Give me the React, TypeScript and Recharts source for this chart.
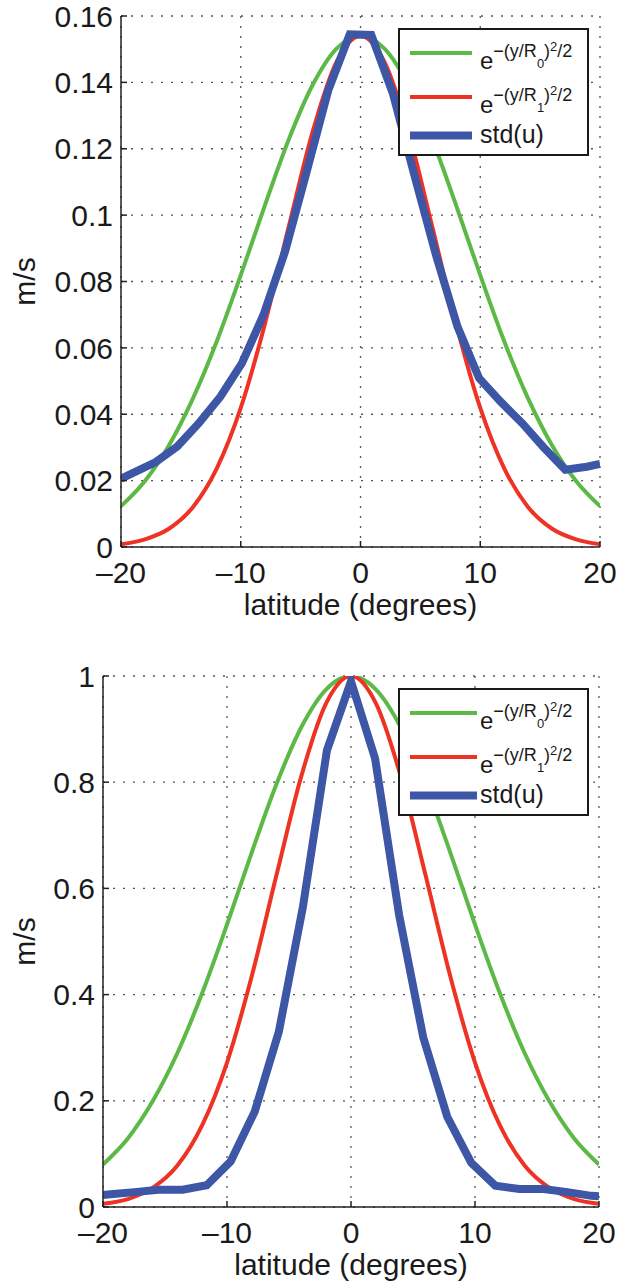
import { LineChart, Line, XAxis, YAxis, CartesianGrid, Legend } from "recharts";

// latitude grid for the two gaussian reference curves
const LAT = [-20, -18, -16, -14, -12, -10, -8, -6, -4, -2, 0, 2, 4, 6, 8, 10, 12, 14, 16, 18, 20];

// top panel (m/s)
const TOP_R0 = [0.0123, 0.0199, 0.0306, 0.0447, 0.062, 0.0819, 0.1028, 0.1227, 0.1392, 0.1502, 0.154, 0.1502, 0.1392, 0.1227, 0.1028, 0.0819, 0.062, 0.0447, 0.0306, 0.0199, 0.0123];
const TOP_R1 = [0.0008, 0.0023, 0.0055, 0.012, 0.0237, 0.0419, 0.067, 0.0964, 0.1251, 0.1462, 0.154, 0.1462, 0.1251, 0.0964, 0.067, 0.0419, 0.0237, 0.012, 0.0055, 0.0023, 0.0008];
const TOP_STD_LAT = [-20, -18.9, -17.1, -15.3, -13.5, -11.7, -9.9, -8.1, -6.3, -4.5, -2.7, -0.9, 0.9, 2.7, 4.5, 6.3, 8.1, 9.9, 11.7, 13.5, 15.3, 17.1, 18.9, 20];
const TOP_STD = [0.0206, 0.0225, 0.0256, 0.0303, 0.0373, 0.0453, 0.0554, 0.07, 0.089, 0.113, 0.1375, 0.1545, 0.1543, 0.1367, 0.112, 0.088, 0.0664, 0.0509, 0.0438, 0.0373, 0.03, 0.0233, 0.0242, 0.025];

// bottom panel (normalised)
const BOT_R0 = [0.08, 0.129, 0.199, 0.29, 0.403, 0.532, 0.668, 0.797, 0.904, 0.975, 1, 0.975, 0.904, 0.797, 0.668, 0.532, 0.403, 0.29, 0.199, 0.129, 0.08];
const BOT_R1 = [0.006, 0.015, 0.036, 0.078, 0.154, 0.272, 0.435, 0.626, 0.812, 0.949, 1, 0.949, 0.812, 0.626, 0.435, 0.272, 0.154, 0.078, 0.036, 0.015, 0.006];
const BOT_STD_LAT = [-20, -19.4, -17.46, -15.52, -13.58, -11.64, -9.7, -7.76, -5.82, -3.88, -1.94, 0, 1.94, 3.88, 5.82, 7.76, 9.7, 11.64, 13.58, 15.52, 17.46, 19.4, 20];
const BOT_STD = [0.0226, 0.024, 0.028, 0.0325, 0.0325, 0.041, 0.086, 0.18, 0.33, 0.565, 0.86, 0.99, 0.845, 0.55, 0.32, 0.17, 0.083, 0.04, 0.034, 0.034, 0.028, 0.021, 0.02];

const X_TICKS = [-20, -10, 0, 10, 20];
const TOP_Y_TICKS = [0, 0.02, 0.04, 0.06, 0.08, 0.1, 0.12, 0.14, 0.16];
const BOT_Y_TICKS = [0, 0.2, 0.4, 0.6, 0.8, 1];

const GREEN = "#5cb946";
const RED = "#ee3224";
const BLUE = "#3d56a6";
const INK = "#1a1a1a";
const FONT = "'Liberation Sans', Arial, Helvetica, sans-serif";
const FS = 30;

const pts = (xs: number[], ys: number[]) => xs.map((x, i) => ({ x, y: ys[i] }));
const fmtX = (v: number) => (v < 0 ? "\u2013" + Math.abs(v) : String(v));

function Gauss({ y, sub }: { y: number; sub: string }) {
  return (
    <text x={80} y={y} fontSize={24} fill={INK}>
      e
      <tspan fontSize={18} dy={-11.6}>{"\u2212(y/R"}</tspan>
      <tspan fontSize={13} dy={10.6}>{sub}</tspan>
      <tspan fontSize={18} dy={-10.6}>)</tspan>
      <tspan fontSize={13} dy={-6}>2</tspan>
      <tspan fontSize={18} dy={6}>/2</tspan>
    </text>
  );
}

function LegendBox({ lineEnd }: { lineEnd: number }) {
  return (
    <div style={{ width: 191, height: 128, border: "2px solid " + INK, boxSizing: "border-box", background: "#fff" }}>
      <svg width={187} height={124} style={{ display: "block" }}>
        <line x1={10} x2={lineEnd} y1={23} y2={23} stroke={GREEN} strokeWidth={4} />
        <line x1={10} x2={lineEnd} y1={67} y2={67} stroke={RED} strokeWidth={4} />
        <line x1={10} x2={lineEnd} y1={105.5} y2={105.5} stroke={BLUE} strokeWidth={8} />
        <Gauss y={39} sub="0" />
        <Gauss y={83} sub="1" />
        <text x={80} y={112.5} fontSize={25} fill={INK}>std(u)</text>
      </svg>
    </div>
  );
}

type PanelProps = {
  top: number;
  height: number;
  yAxisW: number;
  right: number;
  axisH: number;
  yMax: number;
  yTicks: number[];
  r0: { x: number; y: number }[];
  r1: { x: number; y: number }[];
  std: { x: number; y: number }[];
  labelDx: number;
  lineEnd: number;
};

function Panel(p: PanelProps) {
  const axis = { stroke: "#222", strokeWidth: 1.5 };
  return (
    <div style={{ position: "absolute", left: 0, top: p.top }}>
      <LineChart width={630} height={p.height} margin={{ top: 16, right: p.right, bottom: 0, left: 0 }}>
        <CartesianGrid stroke="#555" strokeDasharray="2 8" strokeWidth={1.3} />
        <XAxis
          type="number"
          dataKey="x"
          domain={[-20, 20]}
          ticks={X_TICKS}
          interval={0}
          tickFormatter={fmtX}
          height={p.axisH}
          tickSize={-6}
          tickMargin={21}
          {...axis}
          tick={{ fontSize: FS, fill: INK }}
          label={{ value: "latitude (degrees)", position: "insideTop", offset: 47, fontSize: FS, fill: INK }}
          allowDataOverflow
        />
        <XAxis xAxisId="top" orientation="top" type="number" dataKey="x" domain={[-20, 20]} ticks={X_TICKS} interval={0} tick={false} tickSize={-6} height={0} {...axis} />
        <YAxis
          type="number"
          domain={[0, p.yMax]}
          ticks={p.yTicks}
          interval={0}
          width={p.yAxisW}
          tickSize={-6}
          tickMargin={14}
          {...axis}
          tick={{ fontSize: FS, fill: INK }}
          label={{ value: "m/s", angle: -90, position: "center", dx: p.labelDx, fontSize: FS, fill: INK }}
          allowDataOverflow
        />
        <YAxis yAxisId="right" orientation="right" type="number" domain={[0, p.yMax]} ticks={p.yTicks} interval={0} tick={false} tickSize={-6} width={0} {...axis} />
        <Line data={p.r0} dataKey="y" name="r0" type="monotone" stroke={GREEN} strokeWidth={4} dot={false} isAnimationActive={false} />
        <Line data={p.r1} dataKey="y" name="r1" type="monotone" stroke={RED} strokeWidth={4} dot={false} isAnimationActive={false} />
        <Line data={p.std} dataKey="y" name="std(u)" type="linear" stroke={BLUE} strokeWidth={8} dot={false} isAnimationActive={false} />
        <Legend
          layout="horizontal"
          verticalAlign="middle"
          align="center"
          wrapperStyle={{ left: 398, top: 28, width: 191, height: 128 }}
          content={() => <LegendBox lineEnd={p.lineEnd} />}
        />
      </LineChart>
    </div>
  );
}

export default function App() {
  return (
    <div style={{ position: "absolute", left: 0, top: 0, width: 630, height: 1286, background: "#fff", fontFamily: FONT }}>
      <Panel
        top={0}
        height={640}
        yAxisW={121}
        right={30}
        axisH={93}
        yMax={0.16}
        yTicks={TOP_Y_TICKS}
        r0={pts(LAT, TOP_R0)}
        r1={pts(LAT, TOP_R1)}
        std={pts(TOP_STD_LAT, TOP_STD)}
        labelDx={-36}
        lineEnd={72}
      />
      <Panel
        top={660}
        height={626}
        yAxisW={103}
        right={31}
        axisH={79}
        yMax={1}
        yTicks={BOT_Y_TICKS}
        r0={pts(LAT, BOT_R0)}
        r1={pts(LAT, BOT_R1)}
        std={pts(BOT_STD_LAT, BOT_STD)}
        labelDx={-27}
        lineEnd={77}
      />
    </div>
  );
}
